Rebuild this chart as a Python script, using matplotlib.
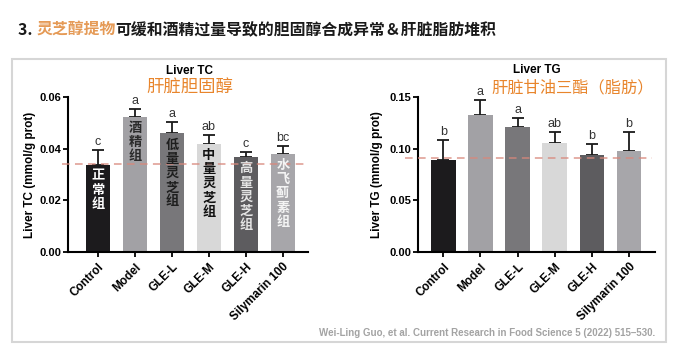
import matplotlib
matplotlib.use("Agg")
import matplotlib.pyplot as plt
from matplotlib.patches import Rectangle

plt.rcParams['font.family'] = ['Liberation Sans', 'Noto Sans CJK SC', 'DejaVu Sans']
CJK = ['Noto Sans CJK SC', 'DejaVu Sans']

# data
groups = ['Control', 'Model', 'GLE-L', 'GLE-M', 'GLE-H', 'Silymarin 100']
group_cn = ['正常组', '酒精组', '低量灵芝组', '中量灵芝组', '高量灵芝组', '水飞蓟素组']

tc_mean = [0.0338, 0.0524, 0.0459, 0.0420, 0.0367, 0.0380]
tc_err = [0.0057, 0.0031, 0.0045, 0.0033, 0.0019, 0.0029]
tc_letters = ['c', 'a', 'a', 'ab', 'c', 'bc']
tc_ref = 0.0341
tc_ticks = [0.00, 0.02, 0.04, 0.06]

tg_mean = [0.0891, 0.1327, 0.1205, 0.1055, 0.0939, 0.0974]
tg_err = [0.0193, 0.0143, 0.0090, 0.0108, 0.0102, 0.0189]
tg_letters = ['b', 'a', 'a', 'ab', 'b', 'b']
tg_ref = 0.0907
tg_ticks = [0.00, 0.05, 0.10, 0.15]

bar_colors = ['#1c1b1d', '#a2a1a5', '#78777a', '#d8d8d8', '#5d5c5f', '#a7a6aa']
cn_colors = ['#ffffff', '#2a2a2a', '#1e1e1e', '#111111', '#e4e4e4', '#f4f4f4']

W, H = 677, 357
fig = plt.figure(figsize=(W / 100, H / 100), dpi=100)


def px(x, y):
    return x / W, 1 - y / H


def make_axes(left, right, top, bottom):
    return fig.add_axes([left / W, 1 - bottom / H, (right - left) / W, (bottom - top) / H])


def draw_panel(ax, means, errs, letters, ref, ticks, ylabel, xlim, ref_span, label_x):
    x = list(range(len(groups)))
    ax.bar(x, means, width=0.66, color=bar_colors, zorder=2)
    ax.errorbar(x, means, yerr=[[0] * len(errs), errs], fmt='none', ecolor='#1a1a1a',
                elinewidth=1.3, capsize=4.3, capthick=1.3, zorder=1)
    for xi, m, e, lt in zip(x, means, errs, letters):
        ax.annotate(lt, (xi, m + e), xytext=(0, 1.5), textcoords='offset points',
                    ha='center', va='bottom', fontsize=9, color='#333333')
    ax.axhline(ref, xmin=ref_span[0], xmax=ref_span[1], color='#d8877b', lw=1.1,
               ls=(0, (5, 3.5)), alpha=0.85, zorder=3, clip_on=False)
    ax.set_xlim(*xlim)
    ax.set_ylim(ticks[0], ticks[-1])
    ax.set_yticks(ticks)
    ax.set_yticklabels([f'{t:.2f}' for t in ticks], fontsize=8, fontweight='bold')
    ax.set_xticks(x)
    ax.set_xticklabels(groups, rotation=45, ha='right', rotation_mode='anchor',
                       fontsize=8.5, fontweight='bold')
    for s in ['top', 'right']:
        ax.spines[s].set_visible(False)
    for s in ['left', 'bottom']:
        ax.spines[s].set_linewidth(1.5)
    ax.tick_params(axis='both', length=3.5, width=1.3, pad=1.5)
    ax.tick_params(axis='x', pad=3)
    ax.set_ylabel(ylabel, fontsize=8.5, fontweight='bold')
    ax.yaxis.set_label_coords(label_x, 0.5)


ax1 = make_axes(68, 308, 97, 252)
draw_panel(ax1, tc_mean, tc_err, tc_letters, tc_ref, tc_ticks, 'Liver TC (mmol/g prot)',
           (-0.81, 5.68), (-0.025, 1.0), -0.135)
for xi, m, label, c in zip(range(len(groups)), tc_mean, group_cn, cn_colors):
    ax1.annotate('\n'.join(label), (xi, m), xytext=(0, -3), textcoords='offset points',
                 ha='center', va='top', fontsize=9.5, fontweight='bold', color=c,
                 family=CJK, linespacing=1.02, zorder=4)

ax2 = make_axes(418, 655, 97, 252)
draw_panel(ax2, tg_mean, tg_err, tg_letters, tg_ref, tg_ticks, 'Liver TG (mmol/g prot)',
           (-0.68, 5.70), (-0.055, 0.987), -0.148)

# panel titles
fig.text(*px(190, 71), 'Liver TC', ha='center', va='center', fontsize=8.5, fontweight='bold')
fig.text(*px(190, 88), '肝脏胆固醇', ha='center', va='center', fontsize=12.5,
         color='#e8852c', family=CJK)
fig.text(*px(537, 70), 'Liver TG', ha='center', va='center', fontsize=8.5, fontweight='bold')
fig.text(*px(573, 88), '肝脏甘油三酯（脂肪）', ha='center', va='center', fontsize=11.7,
         color='#e8852c', family=CJK)

# citation
fig.text(*px(655, 333), 'Wei-Ling Guo, et al. Current Research in Food Science 5 (2022) 515\u2013530.',
         ha='right', va='center', fontsize=7.0, fontweight='bold', color='#a3a3a3')

# frame around both panels
fig.patches.append(Rectangle(px(12, 342), 654 / W, 283 / H, transform=fig.transFigure,
                             fill=False, edgecolor='#d6d6d6', lw=1.5))

# header with coloured pieces
pieces = [('3. ', '#1a1a1a'), ('灵芝醇提物', '#e59a56'),
          ('可缓和酒精过量导致的胆固醇合成异常＆肝脏脂肪堆积', '#1a1a1a')]
renderer = fig.canvas.get_renderer()
x0 = 18
for txt, col in pieces:
    t = fig.text(*px(x0, 30), txt, ha='left', va='center', fontsize=11.4,
                 fontweight='bold', color=col, family=CJK)
    x0 += t.get_window_extent(renderer).width

fig.savefig('out.png', dpi=100, facecolor='white')
